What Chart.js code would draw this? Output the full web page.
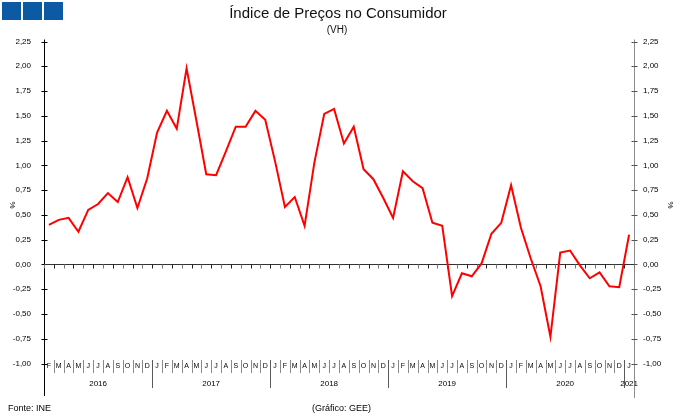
<!DOCTYPE html>
<html>
<head>
<meta charset="utf-8">
<script src="https://cdn.jsdelivr.net/npm/chart.js@4.4.1/dist/chart.umd.min.js"></script>
<style>
    html, body { margin: 0; padding: 0; background: #fff; }
    #ipcChart { display: block; }
</style>
</head>
<body>
<canvas id="ipcChart" width="680" height="419"></canvas>
<script>
(function () {
    'use strict';

    // Feb 2016 .. Jan 2021, one entry per month
    var months = [
        'F', 'M', 'A', 'M', 'J', 'J', 'A', 'S', 'O', 'N', 'D',
        'J', 'F', 'M', 'A', 'M', 'J', 'J', 'A', 'S', 'O', 'N', 'D',
        'J', 'F', 'M', 'A', 'M', 'J', 'J', 'A', 'S', 'O', 'N', 'D',
        'J', 'F', 'M', 'A', 'M', 'J', 'J', 'A', 'S', 'O', 'N', 'D',
        'J', 'F', 'M', 'A', 'M', 'J', 'J', 'A', 'S', 'O', 'N', 'D',
        'J'
    ];
    var years = ['2016', '2017', '2018', '2019', '2020', '2021'];

    // IPC, variação homóloga (%)
    var ipc = [
        0.40, 0.45, 0.47, 0.33, 0.55, 0.61, 0.72, 0.63, 0.88, 0.57, 0.87,
        1.33, 1.55, 1.37, 1.98, 1.45, 0.91, 0.90, 1.14, 1.39, 1.39, 1.55, 1.46,
        1.04, 0.58, 0.68, 0.39, 1.03, 1.52, 1.57, 1.22, 1.39, 0.96, 0.86, 0.67,
        0.47, 0.94, 0.84, 0.77, 0.42, 0.39, -0.32, -0.09, -0.12, 0.01, 0.31, 0.42,
        0.80, 0.37, 0.06, -0.22, -0.73, 0.12, 0.14, -0.01, -0.14, -0.08, -0.22, -0.23,
        0.30
    ];

    var yMin = -1, yMax = 2.25, yStep = 0.25;

    function fmt(v) {
        return Number(v).toFixed(2).replace('.', ',');
    }

    // where each year starts in the months list
    var yearStarts = [0];
    for (var i = 1; i < months.length; i++) {
        if (months[i] === 'J' && months[i - 1] === 'D') yearStarts.push(i);
    }

    var decorations = {
        id: 'gee',
        beforeDatasetsDraw: function (chart) {
            var ctx = chart.ctx;
            var x = chart.scales.x;
            var y = chart.scales.y;
            var area = chart.chartArea;
            var band = (area.right - area.left) / months.length;
            var zero = Math.round(y.getPixelForValue(0)) + 0.5;
            var L = Math.round(area.left) + 0.5;
            var R = Math.round(area.right) + 0.5;

            ctx.save();
            ctx.lineWidth = 1;

            // vertical axes
            ctx.strokeStyle = '#000';
            ctx.beginPath();
            ctx.moveTo(L, area.top - 2);
            ctx.lineTo(L, 396);
            ctx.stroke();
            ctx.strokeStyle = '#8c8c8c';
            ctx.beginPath();
            ctx.moveTo(R, area.top - 2);
            ctx.lineTo(R, 398);
            ctx.stroke();

            // y ticks on both axes
            for (var v = yMin; v <= yMax + 1e-9; v += yStep) {
                var py = Math.round(y.getPixelForValue(v)) + 0.5;
                ctx.strokeStyle = '#000';
                ctx.beginPath();
                ctx.moveTo(L - 3, py);
                ctx.lineTo(L + 3, py);
                ctx.stroke();
                ctx.strokeStyle = '#555';
                ctx.beginPath();
                ctx.moveTo(R - 3, py);
                ctx.lineTo(R + 3, py);
                ctx.stroke();
            }

            // zero line with month ticks
            ctx.strokeStyle = '#333';
            ctx.beginPath();
            ctx.moveTo(L, zero);
            ctx.lineTo(R, zero);
            ctx.stroke();
            for (var k = 0; k <= months.length; k++) {
                var bx = Math.round(x.getPixelForValue(k) - band / 2) + 0.5;
                ctx.strokeStyle = (k % 2) ? '#222' : '#777';
                ctx.beginPath();
                ctx.moveTo(bx, zero);
                ctx.lineTo(bx, zero + 4);
                ctx.stroke();
            }

            // month separators (longer at year changes)
            for (var m = 1; m < months.length; m++) {
                var sx = Math.round(x.getPixelForValue(m) - band / 2) + 0.5;
                var isYear = yearStarts.indexOf(m) >= 0;
                ctx.strokeStyle = isYear ? '#5a5a5a' : '#8a8a8a';
                ctx.beginPath();
                ctx.moveTo(sx, 360);
                ctx.lineTo(sx, isYear ? 388 : 373);
                ctx.stroke();
            }
            ctx.restore();
        },
        afterDraw: function (chart) {
            var ctx = chart.ctx;
            var x = chart.scales.x;

            ctx.save();
            ctx.fillStyle = '#000';
            ctx.textBaseline = 'middle';
            ctx.textAlign = 'center';

            // month letters
            ctx.font = '7px "Liberation Sans"';
            months.forEach(function (lbl, idx) {
                ctx.fillText(lbl, x.getPixelForValue(idx), 366);
            });

            // year labels
            ctx.font = '8px "Liberation Sans"';
            years.forEach(function (yr, idx) {
                var s = yearStarts[idx];
                var e = idx + 1 < yearStarts.length ? yearStarts[idx + 1] : months.length;
                var cx = (x.getPixelForValue(s) + x.getPixelForValue(e - 1)) / 2;
                ctx.fillText(yr, cx, 384);
            });

            // title
            ctx.fillStyle = '#111';
            ctx.font = '15px "Liberation Sans"';
            ctx.fillText('Índice de Preços no Consumidor', 338, 14);
            ctx.font = '10px "Liberation Sans"';
            ctx.fillText('(VH)', 337, 30);

            // footer
            ctx.fillStyle = '#000';
            ctx.font = '9px "Liberation Sans"';
            ctx.textAlign = 'left';
            ctx.fillText('Fonte: INE', 8, 409);
            ctx.fillText('(Gráfico: GEE)', 312, 409);

            // % unit labels
            ctx.font = '8px "Liberation Sans"';
            ctx.textAlign = 'center';
            [12, 670].forEach(function (ux) {
                ctx.save();
                ctx.translate(ux, 205);
                ctx.rotate(Math.PI / 2);
                ctx.fillText('%', 0, 0);
                ctx.restore();
            });

            // logo
            ctx.fillStyle = '#0b5aa3';
            ctx.fillRect(2, 2, 19, 18);
            ctx.fillRect(23, 2, 19, 18);
            ctx.fillRect(44, 2, 19, 18);
            ctx.restore();
        }
    };

    var tickFont = { family: '"Liberation Sans Narrow", "Liberation Sans"', size: 8 };

    new Chart(document.getElementById('ipcChart'), {
        type: 'line',
        data: {
            labels: months,
            datasets: [{
                label: 'IPC',
                data: ipc,
                borderColor: '#ff0000',
                borderWidth: 2,
                pointRadius: 0,
                tension: 0,
                fill: false,
                yAxisID: 'y'
            }]
        },
        options: {
            responsive: false,
            animation: false,
            layout: { padding: { top: 41.5, bottom: 55.5, left: 0, right: 0 } },
            plugins: {
                legend: { display: false },
                title: { display: false },
                tooltip: { enabled: false }
            },
            scales: {
                x: { display: false, offset: true },
                y: {
                    position: 'left',
                    min: yMin,
                    max: yMax,
                    grid: { display: false, drawTicks: false },
                    border: { display: false },
                    ticks: { stepSize: yStep, callback: fmt, font: tickFont, color: '#000', padding: 13 },
                    afterFit: function (s) { s.width = 44; }
                },
                y2: {
                    position: 'right',
                    min: yMin,
                    max: yMax,
                    grid: { display: false, drawTicks: false },
                    border: { display: false },
                    ticks: { stepSize: yStep, callback: fmt, font: tickFont, color: '#000', padding: 9 },
                    afterFit: function (s) { s.width = 46; }
                }
            }
        },
        plugins: [decorations]
    });
})();
</script>
</body>
</html>
